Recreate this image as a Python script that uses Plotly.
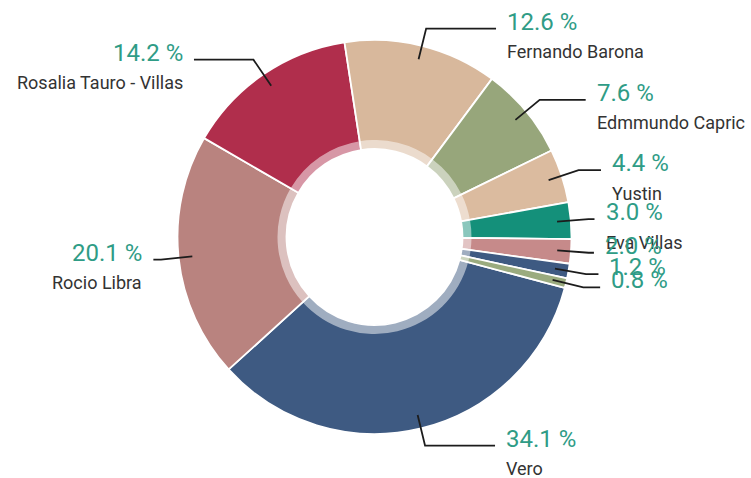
import math
import plotly.graph_objects as go

# ---- data ----
names = ["Vero", "Rocio Libra", "Rosalia Tauro - Villas", "Fernando Barona",
         "Edmmundo Capric", "Yustin", "Eva Villas", "", "", ""]
values = [34.1, 20.1, 14.2, 12.6, 7.6, 4.4, 3.0, 2.0, 1.2, 0.8]
colors = ["#3e5a82", "#b9837f", "#b02e4c", "#d8b89c", "#97a67b",
          "#dbbb9f", "#14907a", "#c68a8a", "#3e5a82", "#9aab7f"]

W, H = 751, 478
CX, CY, R = 374.5, 237.0, 197.0   # pie centre / radius in pixels
ROT = 105.0                       # start angle (deg, clockwise from 12 o'clock)
HOLE_IN, RING = 88.0, 97.0

PCT_COLOR = "#2f9c86"
TXT_COLOR = "#333333"
LINE_COLOR = "#1c1c1c"

def fx(px):
    return px / W

def fy(py):
    return 1 - py / H

def dom(radius):
    return dict(x=[fx(CX - radius), fx(CX + radius)],
                y=[fy(CY + radius), fy(CY - radius)])

ids = [str(i) for i in range(len(values))]

fig = go.Figure()
fig.add_trace(go.Pie(
    labels=ids, values=values, sort=False, direction="clockwise", rotation=ROT,
    hole=HOLE_IN / R, domain=dom(R),
    marker=dict(colors=colors, line=dict(color="white", width=1.8)),
    textinfo="none", hoverinfo="skip", showlegend=False,
))
# pale inner ring
fig.add_trace(go.Pie(
    labels=ids, values=values, sort=False, direction="clockwise", rotation=ROT,
    hole=HOLE_IN / RING, domain=dom(RING),
    marker=dict(colors=["white"] * len(values), line=dict(width=0)),
    opacity=0.5, textinfo="none", hoverinfo="skip", showlegend=False,
))

total = sum(values)
shapes, annotations = [], []
cum = 0.0
for name, v in zip(names, values):
    th = math.radians(ROT + 360.0 * (cum + v / 2) / total)
    cum += v
    s, c = math.sin(th), math.cos(th)
    x0, y0 = CX + 0.93 * R * s, CY - 0.93 * R * c
    x1, y1 = CX + 1.09 * R * s, CY - 1.09 * R * c
    side = 1 if s >= 0 else -1
    x2 = x1 + side * 72 * abs(c)
    path = f"M {fx(x0)},{fy(y0)} L {fx(x1)},{fy(y1)} L {fx(x2)},{fy(y1)}"
    shapes.append(dict(type="path", path=path, xref="paper", yref="paper",
                       line=dict(color=LINE_COLOR, width=1.8)))
    tx = x2 + side * 9
    anchor = "left" if side > 0 else "right"
    annotations.append(dict(
        x=fx(tx), y=fy(y1 - 7), xref="paper", yref="paper",
        text=f"{v:.1f} %", showarrow=False, xanchor=anchor, yanchor="middle",
        font=dict(family="Roboto", size=24, color=PCT_COLOR)))
    if name:
        annotations.append(dict(
            x=fx(tx), y=fy(y1 + 23), xref="paper", yref="paper",
            text=name, showarrow=False, xanchor=anchor, yanchor="middle",
            font=dict(family="Roboto", size=18, color=TXT_COLOR)))

fig.update_layout(
    width=W, height=H, margin=dict(l=0, r=0, t=0, b=0),
    paper_bgcolor="white", plot_bgcolor="white",
    shapes=shapes, annotations=annotations, showlegend=False,
)
fig.write_html("out.html", config={"displayModeBar": False})

# remove the browser's default page margin so the figure sits at (0, 0)
with open("out.html", encoding="utf-8") as f:
    html = f.read()
html = html.replace("<head>", "<head><style>html,body{margin:0;padding:0;}</style>", 1)
with open("out.html", "w", encoding="utf-8") as f:
    f.write(html)
